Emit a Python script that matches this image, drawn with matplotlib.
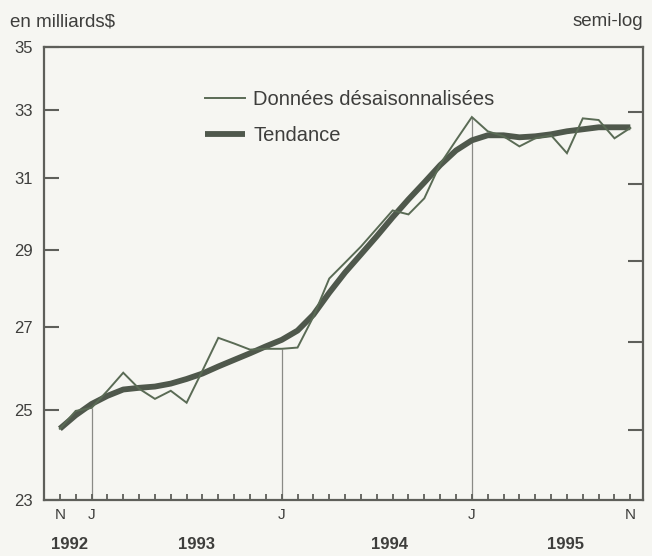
import matplotlib
matplotlib.use("Agg")
import matplotlib.pyplot as plt
import matplotlib.transforms as mtransforms
from matplotlib.ticker import NullLocator, FixedLocator

plt.rcParams['font.family'] = ['Liberation Sans', 'DejaVu Sans']

# ---- data (monthly, Nov 1992 .. Nov 1995) ----
months = list(range(37))
raw = [24.57, 24.98, 25.05, 25.45, 25.88, 25.50, 25.26, 25.45, 25.17, 25.93,
       26.73, 26.59, 26.44, 26.46, 26.46, 26.49, 27.26, 28.24, 28.66, 29.09,
       29.58, 30.08, 29.97, 30.42, 31.40, 32.10, 32.80, 32.37, 32.22, 31.92,
       32.16, 32.25, 31.72, 32.76, 32.71, 32.16, 32.47]
trend = [24.57, 24.88, 25.14, 25.33, 25.48, 25.52, 25.55, 25.62, 25.73, 25.86,
         26.03, 26.19, 26.35, 26.52, 26.68, 26.91, 27.31, 27.87, 28.40, 28.88,
         29.37, 29.89, 30.39, 30.87, 31.37, 31.80, 32.10, 32.25, 32.25, 32.19,
         32.22, 32.28, 32.37, 32.43, 32.49, 32.49, 32.49]

yticks = [23, 25, 27, 29, 31, 33, 35]
right_ticks = [24.55, 26.62, 28.7, 30.84, 32.94]
month_label_pos = [0, 2, 14, 26, 36]
month_labels = ['N', 'J', 'J', 'J', 'N']
year_pos = [0.6, 8.6, 20.8, 31.9]
year_labels = ['1992', '1993', '1994', '1995']
vline_months = [2, 14, 26]
series_labels = ['Données désaisonnalisées', 'Tendance']

# ---- style ----
bg = '#f6f6f2'
frame_c = '#5e5f5a'
raw_c = '#5a6b55'
trend_c = '#4f584c'
text_c = '#3e3e3c'
vline_c = '#8a8a86'

fig = plt.figure(figsize=(6.52, 5.56), dpi=100, facecolor=bg)
ax = fig.add_axes([44/652, 1-500/556, 599/652, 453/556])
ax.set_facecolor(bg)

ax.set_yscale('log')
ax.set_ylim(23, 35)
ax.set_xlim(-1, 36.8)

# vertical reference lines from axis to data
for m in vline_months:
    ax.vlines(m, 23, raw[m], color=vline_c, lw=0.9, zorder=1)

ax.plot(months, raw, color=raw_c, lw=1.4, label=series_labels[0], zorder=3,
        solid_joinstyle='miter')
ax.plot(months, trend, color=trend_c, lw=4.2, label=series_labels[1], zorder=2,
        solid_capstyle='butt')

for s in ax.spines.values():
    s.set_color(frame_c)
    s.set_linewidth(1.6)

# y ticks
ax.yaxis.set_major_locator(FixedLocator(yticks))
ax.yaxis.set_minor_locator(NullLocator())
ax.set_yticklabels([str(v) for v in yticks])
ax.tick_params(axis='y', which='major', direction='in', length=11, width=1.5,
               color=frame_c, labelsize=12, labelcolor=text_c, pad=8)

# right unlabeled ticks
axr = ax.twinx()
axr.set_yscale('log')
axr.set_ylim(23, 35)
axr.yaxis.set_major_locator(FixedLocator(right_ticks))
axr.yaxis.set_minor_locator(NullLocator())
axr.tick_params(axis='y', which='major', direction='in', length=11, width=1.5,
                color=frame_c, labelright=False)
for s in axr.spines.values():
    s.set_visible(False)

# x ticks: every month, small inward ticks
ax.set_xticks(months)
xl = ['' for _ in months]
for p, l in zip(month_label_pos, month_labels):
    xl[p] = l
ax.set_xticklabels(xl)
ax.tick_params(axis='x', which='major', direction='in', length=4.5, width=1.3,
               color=frame_c, labelsize=11, labelcolor=text_c, pad=6)
ax.xaxis.set_minor_locator(NullLocator())

trans = mtransforms.blended_transform_factory(ax.transData, ax.transAxes)
for p, l in zip(year_pos, year_labels):
    ax.text(p, -0.098, l, transform=trans, ha='center', va='center',
            fontsize=12, fontweight='bold', color=text_c)

fig.text(10/652, 1-26/556, 'en milliards$', ha='left', va='baseline',
         fontsize=13.5, color=text_c)
fig.text(643/652, 1-26/556, 'semi-log', ha='right', va='baseline',
         fontsize=13.5, color=text_c)

leg = ax.legend(loc='upper left', bbox_to_anchor=(0.269, 0.905), frameon=False,
                fontsize=14.5, handlelength=2.0, handletextpad=0.4,
                labelspacing=0.85, borderpad=0, borderaxespad=0)
for t in leg.get_texts():
    t.set_color(text_c)

fig.savefig('out.png', dpi=100, facecolor=bg)
